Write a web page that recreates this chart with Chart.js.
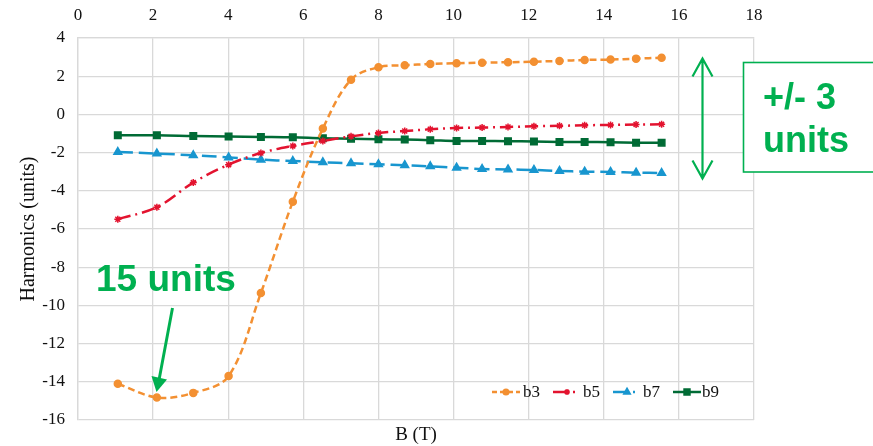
<!DOCTYPE html>
<html>
<head>
<meta charset="utf-8">
<script src="https://cdn.jsdelivr.net/npm/chart.js@4/dist/chart.umd.min.js"></script>
<style>
  html, body { margin: 0; padding: 0; background: #fff; }
  #wrap { width: 873px; height: 446px; }
</style>
</head>
<body>
<div id="wrap"><canvas id="chart" width="873" height="446"></canvas></div>
<script>
// field values (T)
const bField = [1.06, 2.1, 3.07, 4.01, 4.87, 5.72, 6.52, 7.27, 8.0, 8.7,
  9.38, 10.08, 10.76, 11.45, 12.14, 12.82, 13.49, 14.18, 14.86, 15.54];
const b3 = [-14.1, -14.82, -14.58, -13.7, -9.35, -4.57, -0.74, 1.82, 2.47, 2.57,
  2.64, 2.68, 2.71, 2.73, 2.76, 2.8, 2.85, 2.87, 2.92, 2.97];
const b5 = [-5.49, -4.86, -3.57, -2.63, -2.02, -1.65, -1.39, -1.15, -0.97, -0.87,
  -0.78, -0.71, -0.69, -0.66, -0.62, -0.6, -0.57, -0.55, -0.53, -0.52];
const b7 = [-1.97, -2.05, -2.14, -2.25, -2.37, -2.44, -2.51, -2.56, -2.61, -2.66,
  -2.72, -2.79, -2.86, -2.88, -2.91, -2.96, -3.0, -3.01, -3.05, -3.07];
const b9 = [-1.09, -1.09, -1.13, -1.16, -1.18, -1.2, -1.25, -1.27, -1.3, -1.32,
  -1.35, -1.39, -1.39, -1.4, -1.42, -1.44, -1.44, -1.46, -1.48, -1.48];
const seriesNames = ["b3", "b5", "b7", "b9"];

const serif = "'Liberation Serif', 'Times New Roman', serif";
const sans = "'Liberation Sans', Arial, sans-serif";
const green = "#00B050";

const styles = [
  { color: "#F39032", dash: [7, 4], point: "circle", r: 3.5, lr: 2.8 },
  { color: "#E3132F", dash: [13, 5, 2, 5], point: "star", r: 3.5, lr: 3 },
  { color: "#1896CF", dash: [15, 6], point: "triangle", r: 4.5, lr: 3.8 },
  { color: "#006B35", dash: [], point: "rect", r: 4.6, lr: 4.2 }
];
// legend sample dash patterns (shorter than the plotted ones)
const legendDash = [[5, 3], [14, 6, 2, 6], [14, 6, 2, 6], []];

function toPoints(ys) {
  return ys.map((y, i) => ({ x: bField[i], y }));
}

const datasets = [b3, b5, b7, b9].map((ys, i) => ({
  label: seriesNames[i],
  data: toPoints(ys),
  borderColor: styles[i].color,
  backgroundColor: styles[i].color,
  borderWidth: 2.5,
  borderDash: styles[i].dash,
  pointStyle: styles[i].point,
  pointRadius: styles[i].r,
  pointBorderWidth: 1.5,
  tension: 0.35,
  fill: false
}));

// legend, axis titles and the green notes
const extras = {
  id: "extras",
  afterDraw(chart) {
    const ctx = chart.ctx;
    const area = chart.chartArea;
    ctx.save();

    // legend inside the plot
    const legendY = 392;
    const items = [[492, 523], [553, 583], [613, 643], [673, 702]];
    items.forEach((pos, i) => {
      const s = styles[i];
      ctx.strokeStyle = s.color;
      ctx.fillStyle = s.color;
      ctx.lineWidth = 2.5;
      ctx.setLineDash(legendDash[i]);
      ctx.beginPath();
      ctx.moveTo(pos[0], legendY);
      ctx.lineTo(pos[0] + 28, legendY);
      ctx.stroke();
      ctx.setLineDash([]);
      ctx.lineWidth = 1.5;
      Chart.helpers.drawPoint(ctx, {
        pointStyle: s.point, radius: s.lr, borderWidth: 1.5, rotation: 0
      }, pos[0] + 14, legendY);
      ctx.fillStyle = "#111";
      ctx.font = "17px " + serif;
      ctx.textAlign = "left";
      ctx.textBaseline = "middle";
      ctx.fillText(seriesNames[i], pos[1], legendY + 1);
    });

    // axis titles
    ctx.fillStyle = "#111";
    ctx.font = "19px " + serif;
    ctx.textAlign = "center";
    ctx.textBaseline = "middle";
    ctx.fillText("B (T)", (area.left + area.right) / 2, 435);
    ctx.save();
    ctx.translate(29, 229);
    ctx.rotate(-Math.PI / 2);
    ctx.font = "20px " + serif;
    ctx.fillText("Harmonics (units)", 0, 0);
    ctx.restore();

    // "15 units" note and arrow
    ctx.fillStyle = green;
    ctx.strokeStyle = green;
    ctx.font = "bold 37px " + sans;
    ctx.textAlign = "left";
    ctx.textBaseline = "alphabetic";
    ctx.fillText("15 units", 96, 291);
    ctx.lineWidth = 3;
    ctx.beginPath();
    ctx.moveTo(172.5, 308);
    ctx.lineTo(159, 380);
    ctx.stroke();
    ctx.beginPath();
    ctx.moveTo(156.5, 392);
    ctx.lineTo(151.5, 376);
    ctx.lineTo(167, 379.5);
    ctx.closePath();
    ctx.fill();

    // double arrow
    const ax = 702.5, top = 58.5, bot = 178.5;
    ctx.lineWidth = 2.2;
    ctx.beginPath();
    ctx.moveTo(ax, top);
    ctx.lineTo(ax, bot);
    ctx.moveTo(ax - 10, top + 18);
    ctx.lineTo(ax, top);
    ctx.lineTo(ax + 10, top + 18);
    ctx.moveTo(ax - 10, bot - 18);
    ctx.lineTo(ax, bot);
    ctx.lineTo(ax + 10, bot - 18);
    ctx.stroke();

    // boxed note
    ctx.fillStyle = "#fff";
    ctx.fillRect(743.5, 62.5, 140, 109.5);
    ctx.lineWidth = 1.6;
    ctx.strokeRect(743.5, 62.5, 140, 109.5);
    ctx.fillStyle = green;
    ctx.font = "bold 36px " + sans;
    ctx.fillText("+/- 3", 763, 108.5);
    ctx.fillText("units", 763, 152);

    ctx.restore();
  }
};

new Chart(document.getElementById("chart"), {
  type: "line",
  data: { datasets },
  options: {
    responsive: false,
    animation: false,
    layout: { padding: { left: 0, top: 0, right: 119, bottom: 26 } },
    plugins: { legend: { display: false }, tooltip: { enabled: false } },
    scales: {
      x: {
        type: "linear",
        position: "top",
        min: 0, max: 18,
        afterFit: s => { s.height = 38; },
        ticks: { stepSize: 2, padding: 12, color: "#111", font: { family: serif, size: 17 } },
        grid: { color: "#D9D9D9", lineWidth: 1.3, drawTicks: false },
        border: { color: "#D9D9D9", width: 1.3 }
      },
      y: {
        min: -16, max: 4,
        afterFit: s => { s.width = 78; },
        ticks: { stepSize: 2, padding: 13, color: "#111", font: { family: serif, size: 17 } },
        grid: { color: "#D9D9D9", lineWidth: 1.3, drawTicks: false },
        border: { color: "#D9D9D9", width: 1.3 }
      }
    }
  },
  plugins: [extras]
});
</script>
</body>
</html>
